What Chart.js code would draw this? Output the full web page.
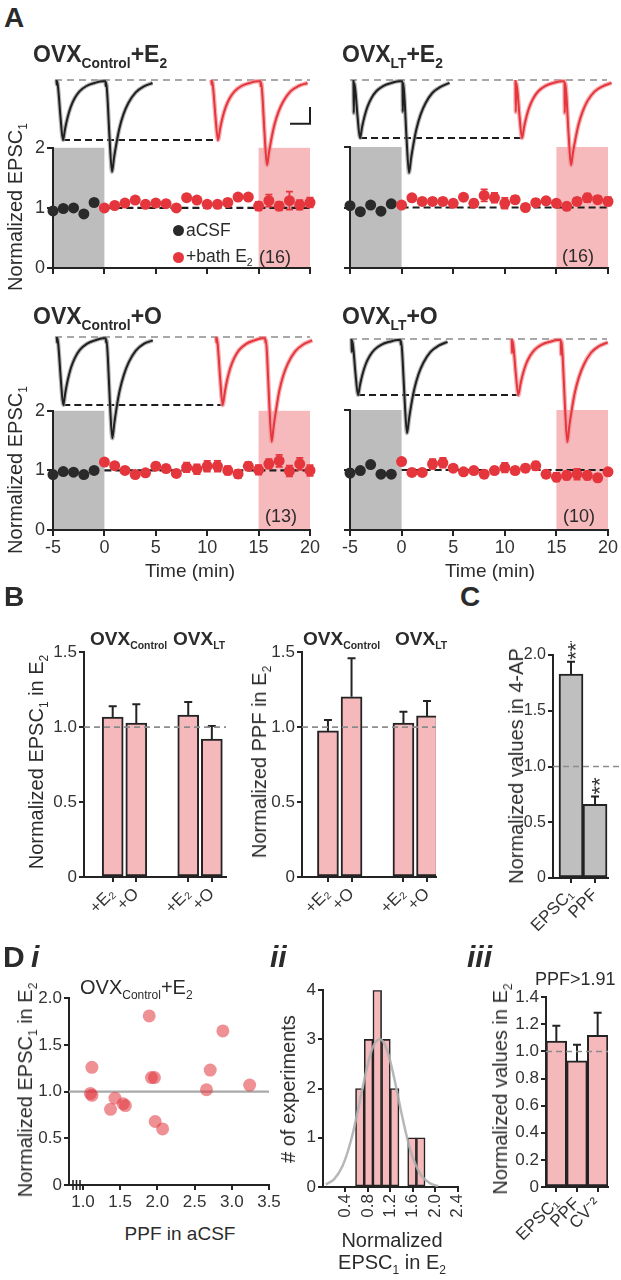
<!DOCTYPE html>
<html lang="en"><head><meta charset="utf-8"><title>EPSC figure</title>
<script src="https://cdn.jsdelivr.net/npm/chart.js@4.4.1/dist/chart.umd.min.js"></script>
<style>
html,body{margin:0;padding:0;background:#fff;}
#fig{position:relative;width:621px;height:1280px;overflow:hidden;background:#fff;font-family:'Liberation Sans',Arial,Helvetica,sans-serif;color:#2b2b2b;}
#fig canvas{position:absolute;}
.t{position:absolute;white-space:nowrap;line-height:1;}
.t sub{font-size:0.6em;vertical-align:-0.42em;line-height:0;}
.b{font-weight:bold;}
.r{transform:translate(-50%,-50%) rotate(-90deg);}
.dot{position:absolute;width:11px;height:11px;border-radius:50%;margin:-5.5px 0 0 -5.5px;}
</style></head><body><div id="fig"></div>
<script>
// ================= DATA =================
// Panel A: normalized EPSC1 time courses
const baseTimes = [-5, -4, -3, -2, -1];
const drugTimes = [0, 1, 2, 3, 4, 5, 6, 7, 8, 9, 10, 11, 12, 13, 14, 15, 16, 17, 18, 19, 20];
const ctlE2Base = [0.95, 0.99, 1.00, 0.90, 1.09];
const ctlE2Drug = [1.00, 1.04, 1.08, 1.13, 1.06, 1.08, 1.07, 1.00, 1.17, 1.13, 1.06, 1.06, 1.09, 1.18, 1.18, 1.03, 1.12, 1.03, 1.12, 1.05, 1.09];
const ctlE2Err  = [0.03, 0.03, 0.03, 0.04, 0.04, 0.04, 0.04, 0.04, 0.05, 0.04, 0.04, 0.04, 0.05, 0.05, 0.05, 0.07, 0.10, 0.07, 0.15, 0.08, 0.08];
const ltE2Base  = [1.03, 0.93, 1.04, 0.94, 1.06];
const ltE2Drug  = [1.04, 1.16, 1.10, 1.10, 1.10, 1.07, 1.17, 1.07, 1.20, 1.16, 1.07, 1.13, 1.00, 1.08, 1.11, 1.07, 1.02, 1.10, 1.16, 1.13, 1.10];
const ltE2Err   = [0.03, 0.04, 0.05, 0.05, 0.06, 0.05, 0.05, 0.06, 0.10, 0.08, 0.09, 0.06, 0.05, 0.06, 0.05, 0.05, 0.05, 0.06, 0.07, 0.06, 0.07];
const ctlOBase  = [0.93, 0.98, 0.97, 0.93, 1.00];
const ctlODrug  = [1.14, 1.08, 1.00, 0.93, 0.96, 1.07, 1.03, 0.95, 1.05, 1.02, 1.07, 1.07, 1.00, 0.94, 1.07, 1.01, 1.11, 1.16, 0.99, 1.11, 1.00];
const ctlOErr   = [0.04, 0.04, 0.04, 0.05, 0.05, 0.06, 0.06, 0.05, 0.08, 0.08, 0.09, 0.09, 0.07, 0.07, 0.07, 0.08, 0.08, 0.10, 0.09, 0.10, 0.09];
const ltOBase   = [0.95, 0.99, 1.09, 0.93, 0.93];
const ltODrug   = [1.14, 0.96, 0.96, 1.10, 1.12, 1.03, 0.97, 0.99, 0.93, 0.99, 1.04, 0.99, 1.03, 1.07, 0.93, 0.88, 0.91, 0.93, 0.91, 0.87, 0.97];
const ltOErr    = [0.04, 0.05, 0.05, 0.08, 0.08, 0.05, 0.05, 0.05, 0.06, 0.06, 0.08, 0.06, 0.06, 0.07, 0.06, 0.07, 0.07, 0.09, 0.07, 0.06, 0.05];
const cellCounts = ['(16)', '(16)', '(13)', '(10)'];

// Panel A: example paired-pulse sweeps (time in ms, amplitude normalized to EPSC1 in aCSF)
const sweepT = [0, 0.3, 0.7, 2, 4, 6.5, 8.5, 11, 14, 18, 23, 30, 38, 46, 49, 49.3, 49.7, 51, 53, 55.5, 57.5, 60, 63, 67, 72, 79, 87, 96];
const swCtlE2Acsf = [0,-0.08,-0.02,-0.2,-0.62,-1,-0.82,-0.63,-0.46,-0.31,-0.19,-0.1,-0.05,-0.02,-0.02,-0.1,-0.04,-0.3,-0.95,-1.53,-1.3,-1.05,-0.8,-0.57,-0.38,-0.21,-0.11,-0.05];
const swCtlE2Drug = [0,-0.08,-0.02,-0.2,-0.62,-1,-0.82,-0.63,-0.46,-0.31,-0.19,-0.1,-0.05,-0.02,-0.02,-0.1,-0.04,-0.28,-0.88,-1.42,-1.21,-0.97,-0.74,-0.53,-0.35,-0.19,-0.1,-0.05];
const swLtE2Acsf  = [0,-0.57,-0.05,-0.2,-0.62,-1,-0.82,-0.63,-0.46,-0.31,-0.19,-0.1,-0.05,-0.02,-0.02,-0.55,-0.05,-0.31,-0.99,-1.6,-1.36,-1.1,-0.84,-0.6,-0.4,-0.22,-0.12,-0.05];
const swLtE2Drug  = [0,-0.55,-0.05,-0.2,-0.62,-1,-0.82,-0.63,-0.46,-0.31,-0.19,-0.1,-0.05,-0.02,-0.02,-0.57,-0.05,-0.29,-0.91,-1.47,-1.25,-1.01,-0.77,-0.55,-0.36,-0.2,-0.11,-0.05];
const swCtlOAcsf  = [0,-0.08,-0.02,-0.2,-0.62,-1,-0.82,-0.63,-0.46,-0.31,-0.19,-0.1,-0.05,-0.02,-0.02,-0.08,-0.04,-0.29,-0.93,-1.49,-1.27,-1.02,-0.78,-0.56,-0.37,-0.2,-0.1,-0.05];
const swCtlODrug  = [0,-0.08,-0.02,-0.2,-0.62,-1,-0.82,-0.63,-0.46,-0.31,-0.19,-0.1,-0.05,-0.02,-0.02,-0.08,-0.04,-0.3,-0.96,-1.54,-1.31,-1.06,-0.8,-0.57,-0.38,-0.21,-0.11,-0.05];
const swLtOAcsf   = [0,-0.23,-0.03,-0.2,-0.62,-1,-0.82,-0.63,-0.46,-0.31,-0.19,-0.1,-0.05,-0.02,-0.02,-0.1,-0.04,-0.33,-1.04,-1.68,-1.43,-1.15,-0.88,-0.63,-0.42,-0.23,-0.12,-0.05];
const swLtODrug   = [0,-0.25,-0.03,-0.2,-0.62,-1,-0.82,-0.63,-0.46,-0.31,-0.19,-0.1,-0.05,-0.02,-0.02,-0.28,-0.04,-0.36,-1.14,-1.84,-1.56,-1.26,-0.96,-0.69,-0.46,-0.25,-0.13,-0.06];

// Panel B
const bLabels   = ['+E\u2082', '+O', '+E\u2082', '+O'];
const bEpscMean = [1.067, 1.027, 1.080, 0.920];
const bEpscErr  = [0.073, 0.126, 0.087, 0.087];
const bPpfMean  = [0.975, 1.202, 1.027, 1.075];
const bPpfErr   = [0.072, 0.258, 0.075, 0.100];
// Panel C
const cLabels = ['EPSC\u2081', 'PPF'];
const cMean   = [1.83, 0.66];
const cErr    = [0.11, 0.07];
const cStars  = ['***', '**'];
// Panel D i
const diPpf  = [1.12, 1.10, 1.12, 1.37, 1.43, 1.54, 1.57, 1.89, 1.92, 1.96, 1.97, 2.07, 2.66, 2.71, 2.88, 3.24];
const diEpsc = [1.26, 0.98, 0.96, 0.81, 0.93, 0.87, 0.85, 1.81, 1.15, 1.15, 0.68, 0.60, 1.02, 1.23, 1.65, 1.07];
const diXTicks = [1.0, 1.5, 2.0, 2.5, 3.0, 3.5];
// Panel D ii
const histEdges  = [0.58, 0.735, 0.89, 1.045, 1.2, 1.355, 1.51, 1.665, 1.82];
const histCounts = [2, 3, 4, 3, 2, 0, 1, 1];
const fitX = [0.05, 0.2, 0.35, 0.5, 0.6, 0.7, 0.8, 0.9, 1.0, 1.1, 1.2, 1.3, 1.4, 1.5, 1.6, 1.75, 1.9, 2.05];
const fitY = [0.05, 0.16, 0.43, 0.95, 1.44, 1.98, 2.5, 2.87, 3.0, 2.9, 2.55, 2.05, 1.5, 1.0, 0.6, 0.24, 0.08, 0.02];
const diiXTicks = [0.4, 0.8, 1.2, 1.6, 2.0, 2.4];
// Panel D iii
const diiiLabels = ['EPSC\u2081', 'PPF', 'CV\u207B\u00B2'];
const diiiMean   = [1.076, 0.930, 1.118];
const diiiErr    = [0.114, 0.120, 0.167];

// ================= STYLE / LAYOUT =================
const FONT = "'Liberation Sans', Arial, Helvetica, sans-serif";
const AX = '#232323', TXT = '#333333', RED = '#e4363c', BLK = '#2a2a2a';
const PINK = '#f6b9bc', PINKBAR = '#f5b8bb', GREYSH = '#bdbdbd', GREYBAR = '#bfbfbf';
Chart.defaults.font.family = FONT;
Chart.defaults.font.size = 17;
Chart.defaults.color = TXT;
Chart.defaults.animation = false;
Chart.defaults.responsive = false;
Chart.defaults.plugins.legend.display = false;
Chart.defaults.plugins.tooltip.enabled = false;

const fig = document.getElementById('fig');

function mkCanvas(area, m) {
  const c = document.createElement('canvas');
  const w = area[2] - area[0] + m.l + m.r, h = area[3] - area[1] + m.t + m.b;
  c.width = w; c.height = h;
  c.style.left = (area[0] - m.l) + 'px'; c.style.top = (area[1] - m.t) + 'px';
  c.style.width = w + 'px'; c.style.height = h + 'px';
  fig.appendChild(c);
  return c;
}
function gridOpts(tl) {
  return {display: true, drawOnChartArea: false, drawTicks: true, tickLength: tl || 5, color: AX, lineWidth: 2, offset: false};
}
function borderOpts() { return {display: true, color: AX, width: 2}; }
function yAxis(m, min, max, step, show, fmt, size, tl) {
  return {type: 'linear', min, max,
    ticks: {display: show, stepSize: step, color: TXT, padding: 2, font: {size: size || 17}, callback: fmt || (v => String(v))},
    grid: gridOpts(tl), border: borderOpts(),
    afterFit(s) { s.width = m.l; }};
}
const dec1 = v => (Math.abs(v) < 1e-9 ? '0' : v.toFixed(1));

// ---------- plugin for shading, error bars, reference lines etc. ----------
function drawH(chart, h) {
  const {ctx, chartArea: a} = chart;
  const y = chart.scales.y.getPixelForValue(h.v);
  ctx.save();
  ctx.strokeStyle = h.color; ctx.lineWidth = h.width; ctx.setLineDash(h.dash || []);
  ctx.beginPath(); ctx.moveTo(a.left, y); ctx.lineTo(a.right + (h.ext || 0), y); ctx.stroke();
  ctx.restore();
}
const extras = {
  id: 'extras',
  beforeDraw(chart) {
    const ex = chart.canvas._ex; if (!ex) return;
    const {ctx, chartArea: a} = chart;
    if (ex.shade) {
      const xs = chart.scales.x;
      ex.shade.forEach(s => {
        const x0 = xs.getPixelForValue(s[0]), x1 = xs.getPixelForValue(s[1]);
        ctx.fillStyle = s[2]; ctx.fillRect(x0, a.top, x1 - x0, a.bottom - a.top);
      });
    }
  },
  beforeDatasetsDraw(chart) {
    const ex = chart.canvas._ex; if (!ex) return;
    const {ctx, chartArea: a} = chart;
    if (ex.hlines) ex.hlines.filter(h => !h.over).forEach(h => drawH(chart, h));
    if (ex.trace) {
      const xb = chart.scales.xb, xr = chart.scales.xr, y = chart.scales.y;
      ctx.save();
      const y0 = y.getPixelForValue(0);
      ctx.strokeStyle = '#8c8c8c'; ctx.lineWidth = 1.6; ctx.setLineDash([7, 5]);
      ctx.beginPath(); ctx.moveTo(a.left + 15, y0); ctx.lineTo(a.right - 10, y0); ctx.stroke();
      const yp = y.getPixelForValue(ex.trace.peakA);
      ctx.strokeStyle = '#1e1e1e'; ctx.lineWidth = 2.2; ctx.setLineDash([7, 4]);
      ctx.beginPath(); ctx.moveTo(xb.getPixelForValue(ex.trace.peakT), yp); ctx.lineTo(xr.getPixelForValue(ex.trace.peakT), yp); ctx.stroke();
      ctx.restore();
    }
  },
  afterDatasetsDraw(chart) {
    const ex = chart.canvas._ex || {};
    const {ctx, chartArea: a} = chart;
    chart.data.datasets.forEach((ds, i) => {
      if (!ds.errors) return;
      const meta = chart.getDatasetMeta(i);
      const ys = chart.scales[meta.yAxisID];
      ctx.save();
      ctx.strokeStyle = ds.errColor || AX; ctx.lineWidth = ds.errWidth || 2; ctx.setLineDash([]);
      meta.data.forEach((el, j) => {
        const raw = ds.data[j]; const v = (typeof raw === 'object') ? raw.y : raw; const e = ds.errors[j];
        const x = el.x, yT = ys.getPixelForValue(v + e);
        const yB = ds.errUp ? ys.getPixelForValue(v) : ys.getPixelForValue(v - e);
        const cw = ds.errCap || 4;
        ctx.beginPath();
        ctx.moveTo(x, yB); ctx.lineTo(x, yT);
        ctx.moveTo(x - cw, yT); ctx.lineTo(x + cw, yT);
        if (!ds.errUp) { ctx.moveTo(x - cw, yB); ctx.lineTo(x + cw, yB); }
        ctx.stroke();
      });
      ctx.restore();
    });
    if (ex.hlines) ex.hlines.filter(h => h.over).forEach(h => drawH(chart, h));
    if (ex.stars) {
      const ds = chart.data.datasets[0], meta = chart.getDatasetMeta(0), ys = chart.scales.y;
      ctx.save(); ctx.fillStyle = TXT; ctx.font = '22px ' + FONT; ctx.textBaseline = 'middle'; ctx.textAlign = 'left';
      meta.data.forEach((el, j) => {
        const v = ds.data[j].y, e = ds.errors[j];
        ctx.save(); ctx.translate(el.x + 6, ys.getPixelForValue(v + e) - 2); ctx.rotate(-Math.PI / 2);
        ctx.fillText(ex.stars[j], 0, 0); ctx.restore();
      });
      ctx.restore();
    }
    if (ex.scaleBar) {
      const xb = chart.scales.xb, y = chart.scales.y, sb = ex.scaleBar;
      ctx.save(); ctx.strokeStyle = '#1e1e1e'; ctx.lineWidth = 2; ctx.setLineDash([]);
      ctx.beginPath();
      ctx.moveTo(xb.getPixelForValue(sb.t[0]), y.getPixelForValue(sb.a[0]));
      ctx.lineTo(xb.getPixelForValue(sb.t[1]), y.getPixelForValue(sb.a[0]));
      ctx.lineTo(xb.getPixelForValue(sb.t[1]), y.getPixelForValue(sb.a[1]));
      ctx.stroke(); ctx.restore();
    }
  },
  afterDraw(chart) {
    const ex = chart.canvas._ex; if (!ex || !ex.axisBreak) return;
    const {ctx, chartArea: a} = chart;
    ctx.save(); ctx.strokeStyle = AX; ctx.lineWidth = 1.6;
    [4, 7.5, 11].forEach(dx => { ctx.beginPath(); ctx.moveTo(a.left + dx, a.bottom - 5); ctx.lineTo(a.left + dx, a.bottom + 5); ctx.stroke(); });
    ctx.restore();
  }
};
Chart.register(extras);

// ---------- Panel A charts ----------
function timeChart(area, m, base, drug, err, showX, showY) {
  const c = mkCanvas(area, m);
  c._ex = {shade: [[-5, 0, GREYSH], [15, 20, PINK]]};
  new Chart(c, {
    type: 'scatter',
    data: {datasets: [
      {type: 'line', data: [{x: 0, y: 1}, {x: 20, y: 1}], borderColor: '#1e1e1e', borderWidth: 2.2, borderDash: [7, 4], pointRadius: 0, order: 3, clip: false},
      {data: base.map((v, i) => ({x: baseTimes[i], y: v})), backgroundColor: BLK, pointRadius: 5.5, borderWidth: 0, order: 2, clip: false},
      {data: drug.map((v, i) => ({x: drugTimes[i], y: v})), backgroundColor: RED, pointRadius: 5.5, borderWidth: 0, order: 1, clip: false,
       errors: err, errColor: RED, errWidth: 1.8, errCap: 3.5}
    ]},
    options: {
      layout: {padding: {left: 0, top: m.t, right: m.r, bottom: 0}},
      scales: {
        x: {type: 'linear', min: -5, max: 20,
            ticks: {display: showX, stepSize: 5, color: TXT, padding: 1, font: {size: 18}},
            grid: gridOpts(6), border: borderOpts(), afterFit(s) { s.height = m.b; }},
        y: yAxis(m, 0, 2, 1, showY, null, 18, 6)
      }
    }
  });
}
function traceChart(area, t0b, t0r, B, U, black, red, scaleBar) {
  const c = mkCanvas(area, {l: 0, t: 0, r: 0, b: 0});
  const W = area[2] - area[0], H = area[3] - area[1];
  const ymax = (B - area[1]) / U, ymin = ymax - H / U;
  c._ex = {trace: {peakT: 6.5, peakA: -1}, scaleBar};
  const mk = (arr, ax, col, w, ord) => ({data: sweepT.map((t, i) => ({x: t, y: arr[i]})), xAxisID: ax, yAxisID: 'y', order: ord,
    borderColor: col, borderWidth: w, pointRadius: 0, cubicInterpolationMode: 'monotone', fill: false, clip: false});
  new Chart(c, {
    type: 'line',
    data: {datasets: [
      mk(black, 'xb', 'rgba(150,150,150,0.7)', 4.2, 4), mk(black, 'xb', '#1f1f1f', 2, 3),
      mk(red, 'xr', 'rgba(242,150,155,0.75)', 4.5, 2), mk(red, 'xr', RED, 2, 1)
    ]},
    options: {
      layout: {padding: 0},
      scales: {
        xb: {type: 'linear', axis: 'x', display: false, min: area[0] - t0b, max: area[0] - t0b + W},
        xr: {type: 'linear', axis: 'x', display: false, min: area[0] - t0r, max: area[0] - t0r + W},
        y: {type: 'linear', display: false, min: ymin, max: ymax}
      }
    }
  });
}
timeChart([53, 147, 310, 268], {l: 45, t: 12, r: 14, b: 30}, ctlE2Base, ctlE2Drug, ctlE2Err, false, true);
timeChart([350, 147, 608, 268], {l: 20, t: 12, r: 13, b: 30}, ltE2Base, ltE2Drug, ltE2Err, false, false);
timeChart([53, 410, 310, 530], {l: 45, t: 12, r: 14, b: 35}, ctlOBase, ctlODrug, ctlOErr, true, true);
timeChart([350, 410, 608, 530], {l: 20, t: 12, r: 13, b: 35}, ltOBase, ltODrug, ltOErr, true, false);
traceChart([40, 70, 320, 190], 56.5, 211.5, 80, 60, swCtlE2Acsf, swCtlE2Drug, {t: [233.5, 253.5], a: [-0.73, -0.45]});
traceChart([335, 70, 617, 190], 353.5, 515.5, 80, 58, swLtE2Acsf, swLtE2Drug, null);
traceChart([40, 327, 320, 450], 56.8, 216.2, 337, 68, swCtlOAcsf, swCtlODrug, null);
traceChart([335, 327, 617, 450], 351.5, 511.8, 339, 56, swLtOAcsf, swLtODrug, null);

// ---------- Bar chart helper (linear index axis) ----------
function barChart(area, m, o) {
  const c = mkCanvas(area, m);
  c._ex = o.ex || {};
  new Chart(c, {
    type: 'bar',
    data: {datasets: [{
      data: o.values.map((v, i) => ({x: o.slots[i], y: v})),
      backgroundColor: o.fill, borderColor: AX, borderWidth: 2, borderSkipped: false, barThickness: o.thick,
      errors: o.err, errUp: true, errCap: 4, errWidth: 2, errColor: AX
    }]},
    options: {
      layout: {padding: {left: 0, top: m.t, right: m.r, bottom: 0}},
      scales: {
        x: {type: 'linear', offset: false, min: o.xmin, max: o.xmax,
            afterBuildTicks(s) { s.ticks = o.slots.map(v => ({value: v})); },
            ticks: {color: TXT, padding: 2, autoSkip: false, minRotation: 45, maxRotation: 45, font: {size: 17}, callback: (v, i) => o.labels[i]},
            grid: gridOpts(), border: borderOpts(), afterFit(s) { s.height = m.b; }},
        y: yAxis(m, 0, o.ymax, o.ystep, true, dec1, o.ysize || 17)
      }
    }
  });
}
const slotsB = [0, 1, 3.2, 4.2];
barChart([84, 652, 226, 877], {l: 60, t: 12, r: 12, b: 55}, {values: bEpscMean, err: bEpscErr, slots: slotsB, labels: bLabels,
  xmin: -1.216, xmax: 4.8, ymax: 1.5, ystep: 0.5, thick: 21, fill: PINKBAR,
  ex: {hlines: [{v: 1, color: '#8c8c8c', width: 1.6, dash: [6, 4], over: true}]}});
barChart([302, 652, 436, 877], {l: 50, t: 12, r: 12, b: 55}, {values: bPpfMean, err: bPpfErr, slots: slotsB, labels: bLabels,
  xmin: -1.10, xmax: 4.58, ymax: 1.5, ystep: 0.5, thick: 21, fill: PINKBAR,
  ex: {hlines: [{v: 1, color: '#8c8c8c', width: 1.6, dash: [6, 4], over: true}]}});
barChart([553, 655, 608, 878], {l: 50, t: 14, r: 13, b: 60}, {values: cMean, err: cErr, slots: [0, 1], labels: cLabels,
  xmin: -0.75, xmax: 1.54, ymax: 2.0, ystep: 0.5, thick: 24, fill: GREYBAR, ysize: 16,
  ex: {hlines: [{v: 1, color: '#8c8c8c', width: 1.6, dash: [6, 4], over: true, ext: 12}], stars: cStars}});

// ---------- D i scatter ----------
(function () {
  const area = [69, 998, 269, 1185], m = {l: 45, t: 12, r: 14, b: 35};
  const c = mkCanvas(area, m);
  c._ex = {hlines: [{v: 1, color: '#a9a9a9', width: 2.2}], axisBreak: true};
  new Chart(c, {
    type: 'scatter',
    data: {datasets: [{data: diPpf.map((x, i) => ({x, y: diEpsc[i]})), backgroundColor: 'rgba(226,52,62,0.55)', pointRadius: 6.5, borderWidth: 0, clip: false}]},
    options: {
      layout: {padding: {left: 0, top: m.t, right: m.r, bottom: 0}},
      scales: {
        x: {type: 'linear', min: 0.812, max: 3.5,
            afterBuildTicks(s) { s.ticks = diXTicks.map(v => ({value: v})); },
            ticks: {color: TXT, padding: 2, font: {size: 17}, callback: v => v.toFixed(1)},
            grid: gridOpts(), border: borderOpts(), afterFit(s) { s.height = m.b; }},
        y: yAxis(m, 0, 2, 0.5, true, dec1)
      }
    }
  });
})();

// ---------- D ii histogram ----------
(function () {
  const area = [323, 990, 468, 1187], m = {l: 28, t: 12, r: 12, b: 45};
  const c = mkCanvas(area, m);
  c._ex = {};
  new Chart(c, {
    type: 'bar',
    data: {datasets: [
      {type: 'line', data: fitX.map((x, i) => ({x, y: fitY[i]})), borderColor: 'rgba(175,175,175,0.9)', borderWidth: 2.5, pointRadius: 0, tension: 0.4, order: 0, clip: false},
      {data: histCounts.map((v, i) => ({x: (histEdges[i] + histEdges[i + 1]) / 2, y: v})), backgroundColor: PINKBAR, borderColor: AX,
       borderWidth: 1.6, borderSkipped: false, barPercentage: 1, categoryPercentage: 1, order: 1}
    ]},
    options: {
      layout: {padding: {left: 0, top: m.t, right: m.r, bottom: 0}},
      scales: {
        x: {type: 'linear', offset: false, min: 0, max: 2.4,
            afterBuildTicks(s) { s.ticks = diiXTicks.map(v => ({value: v})); },
            ticks: {color: TXT, padding: 2, autoSkip: false, minRotation: 90, maxRotation: 90, font: {size: 17}, callback: v => v.toFixed(1)},
            grid: gridOpts(), border: borderOpts(), afterFit(s) { s.height = m.b; }},
        y: yAxis(m, 0, 4, 1, true)
      }
    }
  });
})();

// ---------- D iii bars ----------
(function () {
  const area = [546, 997, 608, 1187], m = {l: 45, t: 12, r: 13, b: 60};
  const c = mkCanvas(area, m);
  c._ex = {hlines: [{v: 1, color: '#8c8c8c', width: 1.6, dash: [6, 4], over: true}]};
  new Chart(c, {
    type: 'bar',
    data: {labels: diiiLabels, datasets: [{data: diiiMean, backgroundColor: PINKBAR, borderColor: AX, borderWidth: 2, borderSkipped: false,
      barPercentage: 1, categoryPercentage: 1, errors: diiiErr, errUp: true, errCap: 4, errWidth: 2, errColor: AX}]},
    options: {
      layout: {padding: {left: 0, top: m.t, right: m.r, bottom: 0}},
      scales: {
        x: {type: 'category', offset: true,
            ticks: {color: TXT, padding: 2, autoSkip: false, minRotation: 45, maxRotation: 45, font: {size: 17}},
            grid: gridOpts(), border: borderOpts(), afterFit(s) { s.height = m.b; }},
        y: yAxis(m, 0, 1.4, 0.2, true, dec1)
      }
    }
  });
})();

// ================= TEXT =================
function txt(html, x, base, size, cls, extra) {
  const d = document.createElement('div');
  d.className = 't' + (cls ? ' ' + cls : '');
  d.innerHTML = html;
  d.style.left = x + 'px'; d.style.top = (base - 0.85 * size) + 'px'; d.style.fontSize = size + 'px';
  if (extra) Object.assign(d.style, extra);
  fig.appendChild(d); return d;
}
function ctxt(html, cx, base, size, cls) { const d = txt(html, cx, base, size, cls); d.style.transform = 'translateX(-50%)'; return d; }
function vtxt(html, cx, cy, size) {
  const d = document.createElement('div');
  d.className = 't r'; d.innerHTML = html;
  d.style.left = cx + 'px'; d.style.top = cy + 'px'; d.style.fontSize = size + 'px';
  fig.appendChild(d); return d;
}
function dot(x, y, col) { const d = document.createElement('div'); d.className = 'dot'; d.style.left = x + 'px'; d.style.top = y + 'px'; d.style.background = col; fig.appendChild(d); }

txt('A', 4, 28, 28, 'b');
txt('OVX<sub>Control</sub>+E<sub>2</sub>', 33, 63, 23, 'b');
txt('OVX<sub>LT</sub>+E<sub>2</sub>', 342, 63, 23, 'b');
txt('OVX<sub>Control</sub>+O', 33, 325, 23, 'b');
txt('OVX<sub>LT</sub>+O', 342, 325, 23, 'b');
vtxt('Normalized EPSC<sub>1</sub>', 15, 207, 20);
vtxt('Normalized EPSC<sub>1</sub>', 15, 470, 20);
ctxt('Time (min)', 190, 577, 19);
ctxt('Time (min)', 490, 577, 19);
dot(178, 230, BLK); txt('aCSF', 186, 237, 17.5);
dot(178, 257, RED); txt('+bath E<sub>2</sub>', 186, 263, 17.5);
txt(cellCounts[0], 259, 263, 18);
txt(cellCounts[1], 562, 262, 18);
txt(cellCounts[2], 265, 522, 18);
txt(cellCounts[3], 563, 522, 18);

txt('B', 4, 607, 28, 'b');
txt('OVX<sub style="font-size:0.55em">Control</sub>', 90, 645, 19, 'b');
txt('OVX<sub style="font-size:0.55em">LT</sub>', 173, 645, 19, 'b');
txt('OVX<sub style="font-size:0.55em">Control</sub>', 303, 645, 19, 'b');
txt('OVX<sub style="font-size:0.55em">LT</sub>', 395, 645, 19, 'b');
vtxt('Normalized EPSC<sub>1</sub> in E<sub>2</sub>', 36, 762, 20);
vtxt('Normalized PPF in E<sub>2</sub>', 259, 762, 20);
txt('C', 460, 607, 28, 'b');
vtxt('Normalized values in 4-AP', 516, 766, 20);

txt('D', 3, 967, 30, 'b');
txt('<i>i</i>', 31, 967, 30, 'b');
txt('<i>ii</i>', 270, 967, 30, 'b');
txt('<i>iii</i>', 467, 967, 30, 'b');
txt('OVX<sub>Control</sub>+E<sub>2</sub>', 80, 994, 20);
vtxt('Normalized EPSC<sub>1</sub> in E<sub>2</sub>', 25, 1090, 20);
ctxt('PPF in aCSF', 180, 1240, 19);
vtxt('# of experiments', 288, 1089, 20);
ctxt('Normalized', 392, 1247, 20);
ctxt('EPSC<sub>1</sub> in E<sub>2</sub>', 392, 1269, 20);
txt('PPF&gt;1.91', 535, 985, 18);
vtxt('Normalized values in E<sub>2</sub>', 500, 1089, 20);
</script></body></html>
